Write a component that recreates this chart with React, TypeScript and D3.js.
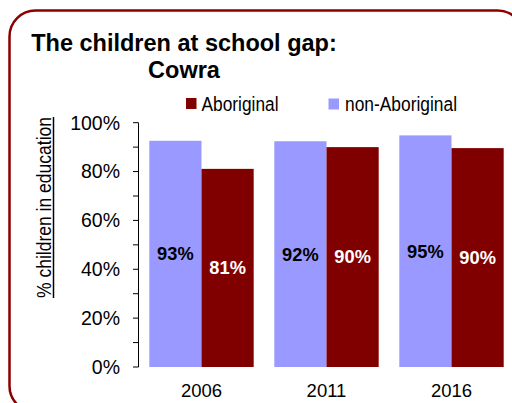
import React from "react";
import * as d3 from "d3";

const years = ["2006", "2011", "2016"];
const seriesNames = ["non-Aboriginal", "Aboriginal"];
const nonAboriginal = [0.926, 0.924, 0.948];
const aboriginal = [0.811, 0.9, 0.896];
const yTicks = [0, 0.1, 0.2, 0.3, 0.4, 0.5, 0.6, 0.7, 0.8, 0.9, 1.0];

const W = 512;
const H = 403;
const BLUE = "#9999FF";
const RED = "#800000";
const SANS = "'Liberation Sans', Arial, Helvetica, sans-serif";
const NARROW = "'Liberation Sans Narrow', 'Arial Narrow', 'Liberation Sans', Arial, sans-serif";

export default function App() {
  const x = d3.scaleBand<string>().domain(years).range([139, 514]).paddingInner(0.165).paddingOuter(0.0825);
  const xi = d3.scaleBand<string>().domain(seriesNames).range([0, x.bandwidth()]);
  const y = d3.scaleLinear().domain([0, 1]).range([367, 122.7]);
  const pct = d3.format(".0%");

  const data = years.map((yr, i) => ({
    year: yr,
    values: [
      { s: "non-Aboriginal", v: nonAboriginal[i], color: BLUE, text: "#000" },
      { s: "Aboriginal", v: aboriginal[i], color: RED, text: "#fff" },
    ],
  }));

  return (
    <svg width={W} height={H} style={{ position: "absolute", left: 0, top: 0, background: "#fff" }}>
      <rect x={9.5} y={10.5} width={514} height={401.5} rx={26} ry={26} fill="none" stroke="#8B0000" strokeWidth={2.5} />
      <text x={184} y={50.5} textAnchor="middle" fontFamily={SANS} fontWeight="bold" fontSize={23.5}>
        The children at school gap:
      </text>
      <text x={184} y={78} textAnchor="middle" fontFamily={SANS} fontWeight="bold" fontSize={23.5}>
        Cowra
      </text>

      {/* legend */}
      <rect x={186} y={98} width={10.5} height={11} fill={RED} />
      <text x={201.5} y={111} fontFamily={NARROW} fontSize={20} textLength={77} lengthAdjust="spacingAndGlyphs">
        Aboriginal
      </text>
      <rect x={328.5} y={98.5} width={10.5} height={11} fill={BLUE} />
      <text x={345} y={111} fontFamily={NARROW} fontSize={20} textLength={112} lengthAdjust="spacingAndGlyphs">
        non-Aboriginal
      </text>

      {/* y axis title */}
      <g transform="translate(51,207.5) rotate(-90)">
        <text x={0} y={0} textAnchor="middle" fontFamily={NARROW} fontSize={21} textLength={181} lengthAdjust="spacingAndGlyphs">
          % children in education
        </text>
        <line x1={-90.5} x2={90.5} y1={2.5} y2={2.5} stroke="#000" strokeWidth={1.5} />
      </g>

      {/* y axis */}
      <line x1={138.5} x2={138.5} y1={y(1)} y2={y(0)} stroke="#000" strokeWidth={1} />
      {yTicks.map((t) => (
        <g key={t}>
          <line x1={133} x2={138.5} y1={y(t)} y2={y(t)} stroke="#000" strokeWidth={1} />
          {Math.round(t * 10) % 2 === 0 && (
            <text x={120} y={y(t)} dy="0.35em" textAnchor="end" fontFamily={SANS} fontSize={19.5}>
              {pct(t)}
            </text>
          )}
        </g>
      ))}

      {/* bars */}
      {data.map((g) => (
        <g key={g.year} transform={`translate(${x(g.year)},0)`}>
          {g.values.map((d) => (
            <g key={d.s}>
              <rect x={xi(d.s)} y={y(d.v)} width={xi.bandwidth()} height={y(0) - y(d.v)} fill={d.color} />
              <text
                x={(xi(d.s) as number) + xi.bandwidth() / 2}
                y={(y(d.v) + y(0)) / 2}
                dy="0.35em"
                textAnchor="middle"
                fontFamily={SANS}
                fontWeight="bold"
                fontSize={18.3}
                fill={d.text}
              >
                {pct(d.v)}
              </text>
            </g>
          ))}
          <text x={x.bandwidth() / 2} y={397} textAnchor="middle" fontFamily={SANS} fontSize={18.5}>
            {g.year}
          </text>
        </g>
      ))}
    </svg>
  );
}
